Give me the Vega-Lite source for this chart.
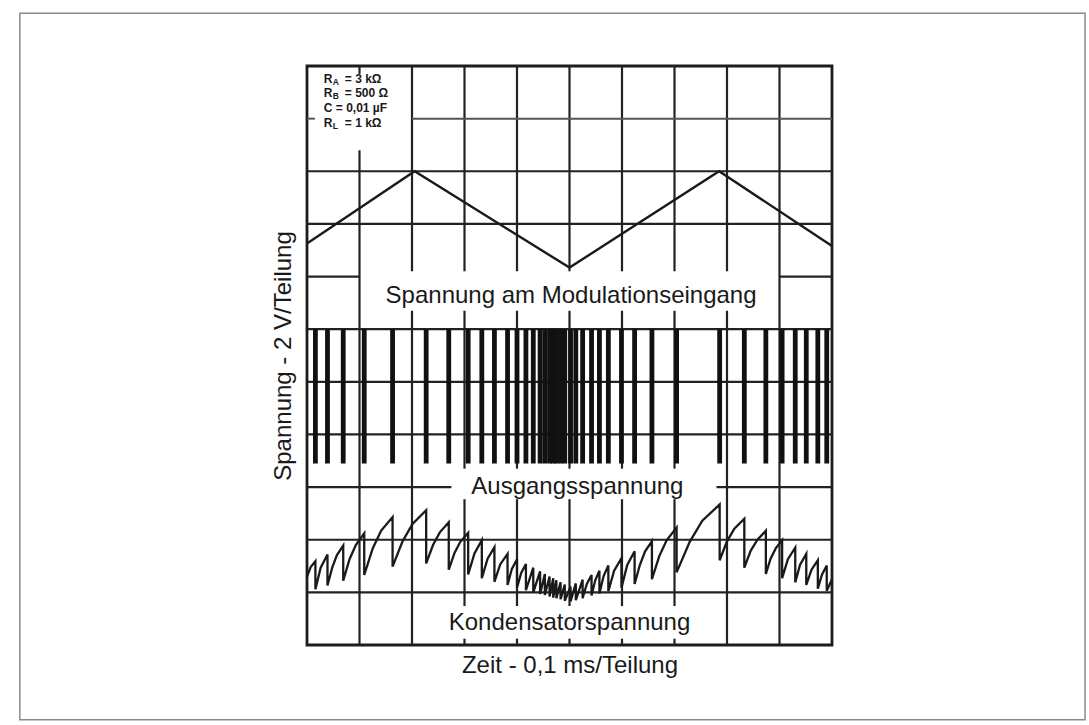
{
  "$schema": "https://vega.github.io/schema/vega-lite/v6.json",
  "width": 525,
  "height": 579,
  "autosize": "none",
  "padding": {"left": 307, "top": 66, "right": 257, "bottom": 80},
  "background": "white",
  "config": {
    "view": {"stroke": "#1c1c1c", "strokeWidth": 2.8},
    "font": "Liberation Sans",
    "axis": {"domain": false, "ticks": false, "labels": false, "grid": false, "titleFont": "Liberation Sans", "titleFontSize": 24, "titleFontWeight": "normal", "titleColor": "#1a1a1a"},
    "axisX": {"titlePadding": 8},
    "axisY": {"titlePadding": 12}
  },
  "datasets": {
    "frame": [{"x1": -5.47, "x2": 14.82, "y1": -1.42, "y2": 12.0}],
    "grid": [
      {"x1": 1, "x2": 1, "y1": 0, "y2": 9.4},
      {"x1": 1, "x2": 1, "y1": 10.85, "y2": 11},
      {"x1": 2, "x2": 2, "y1": 0, "y2": 6.35},
      {"x1": 2, "x2": 2, "y1": 7.1, "y2": 11},
      {"x1": 3, "x2": 3, "y1": 0, "y2": 0.12},
      {"x1": 3, "x2": 3, "y1": 0.74, "y2": 2.77},
      {"x1": 3, "x2": 3, "y1": 3.35, "y2": 6.35},
      {"x1": 3, "x2": 3, "y1": 7.1, "y2": 11},
      {"x1": 4, "x2": 4, "y1": 0, "y2": 0.12},
      {"x1": 4, "x2": 4, "y1": 0.74, "y2": 2.77},
      {"x1": 4, "x2": 4, "y1": 3.35, "y2": 6.35},
      {"x1": 4, "x2": 4, "y1": 7.1, "y2": 11},
      {"x1": 5, "x2": 5, "y1": 0, "y2": 0.12},
      {"x1": 5, "x2": 5, "y1": 0.74, "y2": 2.77},
      {"x1": 5, "x2": 5, "y1": 3.35, "y2": 6.35},
      {"x1": 5, "x2": 5, "y1": 7.1, "y2": 11},
      {"x1": 6, "x2": 6, "y1": 0, "y2": 0.12},
      {"x1": 6, "x2": 6, "y1": 0.74, "y2": 2.77},
      {"x1": 6, "x2": 6, "y1": 3.35, "y2": 6.35},
      {"x1": 6, "x2": 6, "y1": 7.1, "y2": 11},
      {"x1": 7, "x2": 7, "y1": 0, "y2": 0.12},
      {"x1": 7, "x2": 7, "y1": 0.74, "y2": 2.77},
      {"x1": 7, "x2": 7, "y1": 3.35, "y2": 6.35},
      {"x1": 7, "x2": 7, "y1": 7.1, "y2": 11},
      {"x1": 8, "x2": 8, "y1": 0, "y2": 6.35},
      {"x1": 8, "x2": 8, "y1": 7.1, "y2": 11},
      {"x1": 9, "x2": 9, "y1": 0, "y2": 11},
      {"x1": 0, "x2": 10, "y1": 1, "y2": 1},
      {"x1": 0, "x2": 10, "y1": 2, "y2": 2},
      {"x1": 0, "x2": 2.75, "y1": 3, "y2": 3},
      {"x1": 7.8, "x2": 10, "y1": 3, "y2": 3},
      {"x1": 0, "x2": 10, "y1": 4, "y2": 4},
      {"x1": 0, "x2": 10, "y1": 5, "y2": 5},
      {"x1": 0, "x2": 10, "y1": 6, "y2": 6},
      {"x1": 0, "x2": 1, "y1": 7, "y2": 7},
      {"x1": 9, "x2": 10, "y1": 7, "y2": 7},
      {"x1": 0, "x2": 10, "y1": 8, "y2": 8},
      {"x1": 0, "x2": 10, "y1": 9, "y2": 9}
    ],
    "faintgrid": [
      {"x1": 0, "x2": 0.15, "y1": 10, "y2": 10},
      {"x1": 2, "x2": 10, "y1": 10, "y2": 10}
    ],
    "modulation": [
      {"t": 0, "v": 7.63},
      {"t": 2.05, "v": 9.0},
      {"t": 5.0, "v": 7.17},
      {"t": 7.85, "v": 9.0},
      {"t": 10, "v": 7.58}
    ],
    "pulses": [
      {"t": 0.16, "hi": 6, "lo": 3.45}, {"t": 0.39, "hi": 6, "lo": 3.45}, {"t": 0.69, "hi": 6, "lo": 3.45},
      {"t": 1.09, "hi": 6, "lo": 3.45}, {"t": 1.63, "hi": 6, "lo": 3.45}, {"t": 2.27, "hi": 6, "lo": 3.45},
      {"t": 2.70, "hi": 6, "lo": 3.45}, {"t": 3.07, "hi": 6, "lo": 3.45}, {"t": 3.33, "hi": 6, "lo": 3.45},
      {"t": 3.57, "hi": 6, "lo": 3.45}, {"t": 3.82, "hi": 6, "lo": 3.45}, {"t": 4.00, "hi": 6, "lo": 3.45},
      {"t": 4.17, "hi": 6, "lo": 3.45}, {"t": 4.31, "hi": 6, "lo": 3.45}, {"t": 4.44, "hi": 6, "lo": 3.45},
      {"t": 4.53, "hi": 6, "lo": 3.45}, {"t": 4.62, "hi": 6, "lo": 3.45}, {"t": 4.69, "hi": 6, "lo": 3.45},
      {"t": 4.75, "hi": 6, "lo": 3.45}, {"t": 4.83, "hi": 6, "lo": 3.45}, {"t": 4.91, "hi": 6, "lo": 3.45},
      {"t": 5.02, "hi": 6, "lo": 3.45}, {"t": 5.12, "hi": 6, "lo": 3.45}, {"t": 5.25, "hi": 6, "lo": 3.45},
      {"t": 5.42, "hi": 6, "lo": 3.45}, {"t": 5.57, "hi": 6, "lo": 3.45}, {"t": 5.74, "hi": 6, "lo": 3.45},
      {"t": 5.99, "hi": 6, "lo": 3.45}, {"t": 6.24, "hi": 6, "lo": 3.45}, {"t": 6.57, "hi": 6, "lo": 3.45},
      {"t": 7.04, "hi": 6, "lo": 3.45}, {"t": 7.86, "hi": 6, "lo": 3.45}, {"t": 8.33, "hi": 6, "lo": 3.45},
      {"t": 8.74, "hi": 6, "lo": 3.45}, {"t": 9.05, "hi": 6, "lo": 3.45}, {"t": 9.30, "hi": 6, "lo": 3.45},
      {"t": 9.51, "hi": 6, "lo": 3.45}, {"t": 9.73, "hi": 6, "lo": 3.45}, {"t": 9.90, "hi": 6, "lo": 3.45}
    ],
    "capacitor": [
      {"i": 0, "t": 0.00, "v": 1.30}, {"i": 1, "t": 0.07, "v": 1.48}, {"i": 2, "t": 0.16, "v": 1.59}, {"i": 3, "t": 0.16, "v": 1.06},
      {"i": 4, "t": 0.26, "v": 1.47}, {"i": 5, "t": 0.39, "v": 1.72}, {"i": 6, "t": 0.39, "v": 1.13},
      {"i": 7, "t": 0.48, "v": 1.47}, {"i": 8, "t": 0.57, "v": 1.71}, {"i": 9, "t": 0.69, "v": 1.89}, {"i": 10, "t": 0.69, "v": 1.22},
      {"i": 11, "t": 0.81, "v": 1.63}, {"i": 12, "t": 0.93, "v": 1.90}, {"i": 13, "t": 1.09, "v": 2.12}, {"i": 14, "t": 1.09, "v": 1.33},
      {"i": 15, "t": 1.25, "v": 1.83}, {"i": 16, "t": 1.41, "v": 2.17}, {"i": 17, "t": 1.63, "v": 2.43}, {"i": 18, "t": 1.63, "v": 1.49},
      {"i": 19, "t": 1.82, "v": 1.97}, {"i": 20, "t": 2.01, "v": 2.30}, {"i": 21, "t": 2.27, "v": 2.56}, {"i": 22, "t": 2.27, "v": 1.55},
      {"i": 23, "t": 2.40, "v": 1.90}, {"i": 24, "t": 2.53, "v": 2.14}, {"i": 25, "t": 2.70, "v": 2.33}, {"i": 26, "t": 2.70, "v": 1.43},
      {"i": 27, "t": 2.81, "v": 1.75}, {"i": 28, "t": 2.92, "v": 1.96}, {"i": 29, "t": 3.07, "v": 2.13}, {"i": 30, "t": 3.07, "v": 1.34},
      {"i": 31, "t": 3.19, "v": 1.74}, {"i": 32, "t": 3.33, "v": 1.99}, {"i": 33, "t": 3.33, "v": 1.27},
      {"i": 34, "t": 3.44, "v": 1.64}, {"i": 35, "t": 3.57, "v": 1.86}, {"i": 36, "t": 3.57, "v": 1.20},
      {"i": 37, "t": 3.68, "v": 1.53}, {"i": 38, "t": 3.82, "v": 1.73}, {"i": 39, "t": 3.82, "v": 1.14},
      {"i": 40, "t": 3.90, "v": 1.44}, {"i": 41, "t": 4.00, "v": 1.63}, {"i": 42, "t": 4.00, "v": 1.09},
      {"i": 43, "t": 4.08, "v": 1.37}, {"i": 44, "t": 4.17, "v": 1.54}, {"i": 45, "t": 4.17, "v": 1.04},
      {"i": 46, "t": 4.31, "v": 1.47}, {"i": 47, "t": 4.31, "v": 1.00},
      {"i": 48, "t": 4.44, "v": 1.40}, {"i": 49, "t": 4.44, "v": 0.97},
      {"i": 50, "t": 4.53, "v": 1.35}, {"i": 51, "t": 4.53, "v": 0.95},
      {"i": 52, "t": 4.62, "v": 1.30}, {"i": 53, "t": 4.62, "v": 0.92},
      {"i": 54, "t": 4.69, "v": 1.27}, {"i": 55, "t": 4.69, "v": 0.90},
      {"i": 56, "t": 4.75, "v": 1.23}, {"i": 57, "t": 4.75, "v": 0.89},
      {"i": 58, "t": 4.83, "v": 1.19}, {"i": 59, "t": 4.83, "v": 0.87},
      {"i": 60, "t": 4.91, "v": 1.15}, {"i": 61, "t": 4.91, "v": 0.84},
      {"i": 62, "t": 5.02, "v": 1.11}, {"i": 63, "t": 5.02, "v": 0.83},
      {"i": 64, "t": 5.12, "v": 1.17}, {"i": 65, "t": 5.12, "v": 0.85},
      {"i": 66, "t": 5.25, "v": 1.24}, {"i": 67, "t": 5.25, "v": 0.89},
      {"i": 68, "t": 5.33, "v": 1.16}, {"i": 69, "t": 5.42, "v": 1.33}, {"i": 70, "t": 5.42, "v": 0.94},
      {"i": 71, "t": 5.49, "v": 1.23}, {"i": 72, "t": 5.57, "v": 1.41}, {"i": 73, "t": 5.57, "v": 0.98},
      {"i": 74, "t": 5.65, "v": 1.31}, {"i": 75, "t": 5.74, "v": 1.51}, {"i": 76, "t": 5.74, "v": 1.02},
      {"i": 77, "t": 5.85, "v": 1.41}, {"i": 78, "t": 5.99, "v": 1.65}, {"i": 79, "t": 5.99, "v": 1.09},
      {"i": 80, "t": 6.10, "v": 1.52}, {"i": 81, "t": 6.24, "v": 1.78}, {"i": 82, "t": 6.24, "v": 1.16},
      {"i": 83, "t": 6.34, "v": 1.52}, {"i": 84, "t": 6.44, "v": 1.78}, {"i": 85, "t": 6.57, "v": 1.97}, {"i": 86, "t": 6.57, "v": 1.25},
      {"i": 87, "t": 6.71, "v": 1.69}, {"i": 88, "t": 6.85, "v": 1.99}, {"i": 89, "t": 7.04, "v": 2.23}, {"i": 90, "t": 7.04, "v": 1.38},
      {"i": 91, "t": 7.29, "v": 1.96}, {"i": 92, "t": 7.53, "v": 2.36}, {"i": 93, "t": 7.86, "v": 2.67}, {"i": 94, "t": 7.86, "v": 1.61},
      {"i": 95, "t": 8.00, "v": 1.97}, {"i": 96, "t": 8.14, "v": 2.21}, {"i": 97, "t": 8.33, "v": 2.40}, {"i": 98, "t": 8.33, "v": 1.47},
      {"i": 99, "t": 8.45, "v": 1.79}, {"i": 100, "t": 8.58, "v": 2.00}, {"i": 101, "t": 8.74, "v": 2.17}, {"i": 102, "t": 8.74, "v": 1.35},
      {"i": 103, "t": 8.83, "v": 1.64}, {"i": 104, "t": 8.93, "v": 1.84}, {"i": 105, "t": 9.05, "v": 1.99}, {"i": 106, "t": 9.05, "v": 1.27},
      {"i": 107, "t": 9.16, "v": 1.63}, {"i": 108, "t": 9.30, "v": 1.85}, {"i": 109, "t": 9.30, "v": 1.19},
      {"i": 110, "t": 9.39, "v": 1.52}, {"i": 111, "t": 9.51, "v": 1.73}, {"i": 112, "t": 9.51, "v": 1.14},
      {"i": 113, "t": 9.61, "v": 1.43}, {"i": 114, "t": 9.73, "v": 1.61}, {"i": 115, "t": 9.73, "v": 1.07},
      {"i": 116, "t": 9.81, "v": 1.34}, {"i": 117, "t": 9.90, "v": 1.51}, {"i": 118, "t": 9.90, "v": 1.03},
      {"i": 119, "t": 10.00, "v": 1.25}
    ],
    "labels": [
      {"t": 5.03, "v": 6.63, "label": "Spannung am Modulationseingang"},
      {"t": 5.15, "v": 3.0, "label": "Ausgangsspannung"},
      {"t": 5.0, "v": 0.42, "label": "Kondensatorspannung"}
    ],
    "legend": [
      {"t": 0.32, "v": 10.76, "main": "R", "sub": "A", "rest": "= 3 kΩ"},
      {"t": 0.32, "v": 10.48, "main": "R", "sub": "B", "rest": "= 500 Ω"},
      {"t": 0.32, "v": 10.2, "main": "C = 0,01 µF", "sub": "", "rest": ""},
      {"t": 0.32, "v": 9.92, "main": "R", "sub": "L", "rest": "= 1 kΩ"}
    ]
  },
  "layer": [
    {
      "data": {"name": "grid"},
      "mark": {"type": "rule", "color": "#222222", "strokeWidth": 2.2},
      "encoding": {
        "x": {"field": "x1", "type": "quantitative", "scale": {"domain": [0, 10], "nice": false, "zero": false}, "axis": {"title": "Zeit - 0,1 ms/Teilung"}},
        "x2": {"field": "x2"},
        "y": {"field": "y1", "type": "quantitative", "scale": {"domain": [0, 11], "nice": false, "zero": false}, "axis": {"title": "Spannung - 2 V/Teilung"}},
        "y2": {"field": "y2"}
      }
    },
    {
      "data": {"name": "faintgrid"},
      "mark": {"type": "rule", "color": "#555555", "strokeWidth": 2},
      "encoding": {
        "x": {"field": "x1", "type": "quantitative", "scale": {"domain": [0, 10], "nice": false, "zero": false}},
        "x2": {"field": "x2"},
        "y": {"field": "y1", "type": "quantitative", "scale": {"domain": [0, 11], "nice": false, "zero": false}},
        "y2": {"field": "y2"}
      }
    },
    {
      "data": {"name": "modulation"},
      "mark": {"type": "line", "color": "#1a1a1a", "strokeWidth": 2.4},
      "encoding": {
        "x": {"field": "t", "type": "quantitative", "scale": {"domain": [0, 10], "nice": false, "zero": false}},
        "y": {"field": "v", "type": "quantitative", "scale": {"domain": [0, 11], "nice": false, "zero": false}}
      }
    },
    {
      "data": {"name": "pulses"},
      "mark": {"type": "rule", "color": "#111111", "strokeWidth": 4.8},
      "encoding": {
        "x": {"field": "t", "type": "quantitative", "scale": {"domain": [0, 10], "nice": false, "zero": false}},
        "y": {"field": "hi", "type": "quantitative", "scale": {"domain": [0, 11], "nice": false, "zero": false}},
        "y2": {"field": "lo"}
      }
    },
    {
      "data": {"name": "capacitor"},
      "mark": {"type": "line", "color": "#1a1a1a", "strokeWidth": 2.3},
      "encoding": {
        "x": {"field": "t", "type": "quantitative", "scale": {"domain": [0, 10], "nice": false, "zero": false}},
        "y": {"field": "v", "type": "quantitative", "scale": {"domain": [0, 11], "nice": false, "zero": false}},
        "order": {"field": "i", "type": "quantitative"}
      }
    },
    {
      "data": {"name": "labels"},
      "mark": {"type": "text", "font": "Liberation Sans", "fontSize": 24, "color": "#1a1a1a", "align": "center", "baseline": "middle"},
      "encoding": {
        "x": {"field": "t", "type": "quantitative", "scale": {"domain": [0, 10], "nice": false, "zero": false}},
        "y": {"field": "v", "type": "quantitative", "scale": {"domain": [0, 11], "nice": false, "zero": false}},
        "text": {"field": "label"}
      }
    },
    {
      "data": {"name": "legend"},
      "mark": {"type": "text", "font": "Liberation Sans", "fontSize": 12, "fontWeight": "bold", "color": "#1a1a1a", "align": "left", "baseline": "middle"},
      "encoding": {
        "x": {"field": "t", "type": "quantitative", "scale": {"domain": [0, 10], "nice": false, "zero": false}},
        "y": {"field": "v", "type": "quantitative", "scale": {"domain": [0, 11], "nice": false, "zero": false}},
        "text": {"field": "main"}
      }
    },
    {
      "data": {"name": "legend"},
      "mark": {"type": "text", "font": "Liberation Sans", "fontSize": 8.5, "fontWeight": "bold", "color": "#1a1a1a", "align": "left", "baseline": "middle", "dx": 9, "dy": 3},
      "encoding": {
        "x": {"field": "t", "type": "quantitative", "scale": {"domain": [0, 10], "nice": false, "zero": false}},
        "y": {"field": "v", "type": "quantitative", "scale": {"domain": [0, 11], "nice": false, "zero": false}},
        "text": {"field": "sub"}
      }
    },
    {
      "data": {"name": "legend"},
      "mark": {"type": "text", "font": "Liberation Sans", "fontSize": 12, "fontWeight": "bold", "color": "#1a1a1a", "align": "left", "baseline": "middle", "dx": 21},
      "encoding": {
        "x": {"field": "t", "type": "quantitative", "scale": {"domain": [0, 10], "nice": false, "zero": false}},
        "y": {"field": "v", "type": "quantitative", "scale": {"domain": [0, 11], "nice": false, "zero": false}},
        "text": {"field": "rest"}
      }
    },
    {
      "data": {"name": "frame"},
      "mark": {"type": "rect", "fill": null, "fillOpacity": 0, "stroke": "#8a8a8a", "strokeWidth": 1.5},
      "encoding": {
        "x": {"field": "x1", "type": "quantitative", "scale": {"domain": [0, 10], "nice": false, "zero": false}},
        "x2": {"field": "x2"},
        "y": {"field": "y1", "type": "quantitative", "scale": {"domain": [0, 11], "nice": false, "zero": false}},
        "y2": {"field": "y2"}
      }
    }
  ]
}
